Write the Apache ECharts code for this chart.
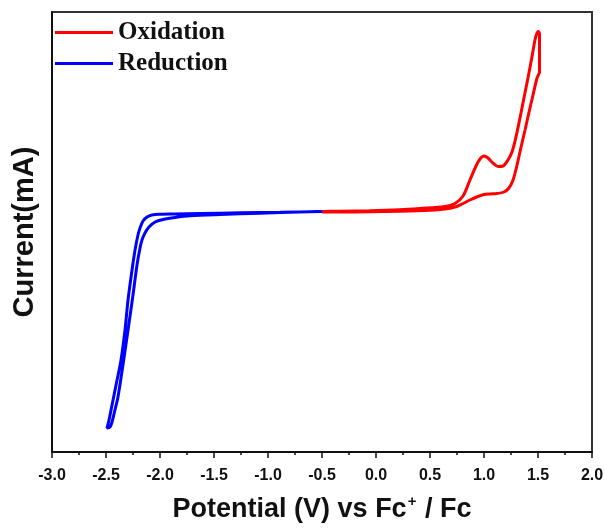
<!DOCTYPE html>
<html>
<head>
<meta charset="utf-8">
<script src="https://cdn.jsdelivr.net/npm/echarts@6/dist/echarts.min.js"></script>
<style>
html,body{margin:0;padding:0;background:#fff;}
#chart{width:605px;height:528px;}
</style>
</head>
<body>
<div id="chart"></div>
<script>
// Potential (V vs Fc+/Fc) and current (arbitrary mA units)
const oxidationPotential = [-0.500,-0.333,-0.056,0.222,0.407,0.639,0.731,0.806,0.870,0.926,0.963,1.000,1.037,1.083,1.130,1.176,1.222,1.259,1.296,1.333,1.370,1.407,1.444,1.472,1.491,1.505,
  1.514,1.514,1.491,1.454,1.417,1.380,1.343,1.306,1.269,1.231,1.185,1.120,1.056,1.000,0.944,0.870,0.796,0.731,0.639,0.500,0.222,-0.056,-0.333,-0.500];
const oxidationCurrent = [0.025,0.04,0.06,0.11,0.175,0.275,0.425,0.80,1.60,2.30,2.65,2.80,2.70,2.45,2.275,2.30,2.60,3.00,3.75,4.70,5.70,6.70,7.75,8.60,8.95,9.025,
  8.90,7.00,6.70,5.85,5.00,4.10,3.25,2.35,1.60,1.20,1.00,0.925,0.90,0.875,0.775,0.60,0.40,0.25,0.15,0.09,0.04,0.015,0.0,0.0];

const reductionPotential = [-0.500,-0.889,-1.259,-1.630,-1.861,-2.000,-2.074,-2.120,-2.157,-2.185,-2.204,-2.231,-2.259,-2.296,-2.324,-2.361,-2.407,-2.444,-2.472,-2.491,
  -2.463,-2.444,-2.417,-2.389,-2.343,-2.296,-2.250,-2.213,-2.185,-2.167,-2.139,-2.102,-2.046,-1.972,-1.861,-1.722,-1.444,-1.074,-0.704,-0.500];
const reductionCurrent = [0.025,-0.01,-0.04,-0.075,-0.10,-0.115,-0.15,-0.25,-0.45,-0.80,-1.15,-1.90,-2.90,-4.40,-5.90,-7.40,-8.65,-9.65,-10.40,-10.80,
  -10.75,-10.50,-9.90,-9.25,-7.65,-5.90,-4.15,-2.65,-1.80,-1.40,-1.05,-0.75,-0.50,-0.375,-0.275,-0.19,-0.125,-0.06,0.0,0.025];

const xTickValues = [-3.0,-2.5,-2.0,-1.5,-1.0,-0.5,0.0,0.5,1.0,1.5,2.0];
const seriesNames = ['Oxidation','Reduction'];

const zip = (a,b) => a.map((v,i)=>[v,b[i]]);
const SANS = 'Liberation Sans, Arial, sans-serif';

const chart = echarts.init(document.getElementById('chart'), null, {renderer:'canvas'});
chart.setOption({
  animation:false,
  backgroundColor:'#fff',
  grid:{left:52,right:13,top:12,bottom:76,show:true,borderColor:'#333',borderWidth:2,containLabel:false,outerBoundsMode:'none'},
  legend:{
    orient:'vertical', left:55, top:20, padding:0, itemWidth:58, itemHeight:3, itemGap:6, icon:'rect',
    textStyle:{fontFamily:'Liberation Serif, Times New Roman, serif',fontWeight:'bold',fontSize:25,color:'#111'},
    data:seriesNames
  },
  xAxis:{
    type:'value', min:xTickValues[0], max:xTickValues[xTickValues.length-1], interval:0.5,
    name:'{n|Potential (V) vs Fc}{sup|+}{n| / Fc}', nameLocation:'middle', nameGap:44,
    nameTextStyle:{fontFamily:SANS,fontWeight:'bold',fontSize:27,color:'#111',
      rich:{
        n:{fontFamily:SANS,fontWeight:'bold',fontSize:27,lineHeight:27,color:'#111'},
        sup:{fontFamily:SANS,fontWeight:'bold',fontSize:15,lineHeight:15,color:'#111',padding:[0,1,16,1]}
      }},
    axisLine:{onZero:false,lineStyle:{color:'#111',width:2}},
    axisTick:{show:true,length:6,inside:false,lineStyle:{color:'#111',width:1.5}},
    minorTick:{show:true,splitNumber:2,length:3,lineStyle:{color:'#111',width:1.5}},
    axisLabel:{fontFamily:SANS,fontWeight:'bold',fontSize:16,color:'#111',margin:16,
      formatter:v=>v.toFixed(1)},
    splitLine:{show:false}
  },
  yAxis:{
    type:'value', min:-12, max:10,
    name:'Current(mA)', nameLocation:'middle', nameGap:13,
    nameTextStyle:{fontFamily:SANS,fontWeight:'bold',fontSize:29,color:'#111'},
    axisLine:{show:true,onZero:false,lineStyle:{color:'#111',width:2}},
    axisTick:{show:false}, axisLabel:{show:false}, splitLine:{show:false}
  },
  series:[
    {name:seriesNames[0],type:'line',data:zip(oxidationPotential,oxidationCurrent),showSymbol:false,smooth:0.3,
     lineStyle:{color:'#ff0000',width:3},itemStyle:{color:'#ff0000'},z:3},
    {name:seriesNames[1],type:'line',data:zip(reductionPotential,reductionCurrent),showSymbol:false,smooth:0.3,
     lineStyle:{color:'#0000ff',width:3},itemStyle:{color:'#0000ff'},z:4}
  ]
});
</script>
</body>
</html>
